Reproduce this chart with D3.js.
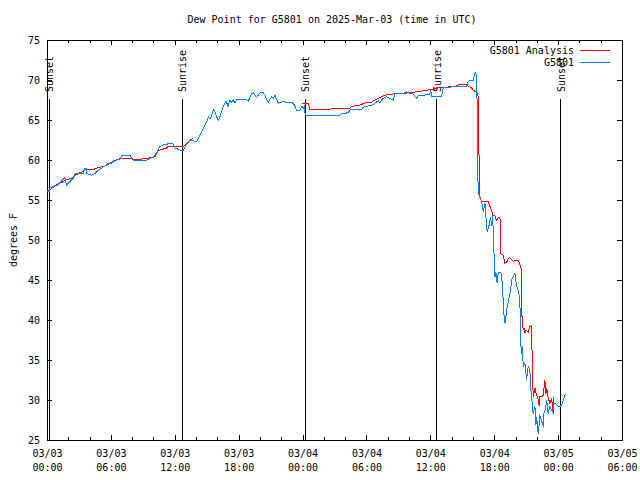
<!DOCTYPE html>
<html>
<head>
<meta charset="utf-8">
<script src="https://cdn.jsdelivr.net/npm/d3@7"></script>
<style>
  html, body { margin: 0; padding: 0; background: #fff; }
  svg { display: block; }
  text { font-family: "DejaVu Sans Mono", "Liberation Mono", monospace; font-size: 10px; fill: #000; }
</style>
</head>
<body>
<svg id="chart" width="640" height="480"></svg>
<script>
// ---------------- DATA ----------------
const chartTitle = "Dew Point for G5801 on 2025-Mar-03 (time in UTC)";
const yLabel = "degrees F";
const startUTC = Date.UTC(2025, 2, 3, 0, 0);
const endUTC = Date.UTC(2025, 2, 5, 6, 0);
const yTicks = [25, 30, 35, 40, 45, 50, 55, 60, 65, 70, 75];
const seriesNames = ["G5801 Analysis", "G5801"];

// hours since 03/03 00:00 UTC
const sunHours = [0.22, 12.71, 24.26, 36.6, 48.24];
const sunLabels = ["Sunset", "Sunrise", "Sunset", "Sunrise", "Sunset"];

// Observations (G5801)
const obsHours = [0,0.22,0.28,0.54,1.06,1.22,1.53,1.69,1.78,1.85,2.16,2.47,2.63,2.94,3.41,3.57,3.73,3.74,4.2,4.51,4.82,5.14,5.61,5.76,6.08,6.23,6.54,6.85,7.01,7.79,7.95,8.1,9.36,9.98,10.14,10.45,10.61,10.92,11.24,11.39,11.86,12.02,12.49,12.8,13.12,13.43,13.74,14.06,14.37,14.68,15.0,15.15,15.31,15.46,15.62,15.77,16.08,16.24,16.55,16.81,17.02,17.18,17.34,17.49,17.65,17.81,17.96,18.75,18.9,19.06,19.22,19.37,19.53,19.69,19.84,20.0,20.31,20.47,20.63,20.78,20.94,21.1,21.25,21.41,21.57,21.72,21.88,22.19,22.51,22.82,23.13,23.29,23.45,23.6,23.76,23.92,24.07,24.16,24.25,27.51,27.67,28.29,28.45,29.55,29.7,30.64,30.8,31.11,31.27,31.43,31.58,31.9,32.21,32.52,32.68,33.15,33.62,33.77,34.08,34.4,34.55,34.71,34.87,35.02,35.96,36.03,36.12,37.06,37.21,37.84,38.47,39.41,39.56,39.72,40.03,40.19,40.28,40.35,40.36,40.4,40.41,40.5,40.6,40.82,40.97,41.13,41.29,41.34,41.53,41.66,41.75,41.85,41.91,41.97,42.07,42.16,42.28,42.38,42.6,42.69,42.86,42.92,43.01,43.1,43.22,43.41,43.54,43.63,43.79,43.94,44.1,44.25,44.41,44.48,44.57,44.66,44.72,44.88,45.04,45.19,45.35,45.42,45.51,45.66,45.82,45.92,45.98,46.13,46.23,46.29,46.45,46.6,46.67,46.85,46.92,47.07,47.23,47.39,47.54,47.61,47.8,48.01,48.17,48.33,48.48,48.64,48.73];
const obsValues = [56.1,56.0,56.5,56.7,56.9,57.2,57.6,57.8,57.1,56.9,57.3,57.7,58.25,58.3,58.3,59.0,59.0,58.3,58.1,58.3,58.7,59.0,59.4,59.6,59.6,59.9,60.0,60.1,60.6,60.6,60.2,60.0,60.0,60.4,60.6,61.3,61.7,61.9,61.9,62.1,62.0,61.5,61.25,61.2,62.1,62.5,62.4,62.3,63.1,64.0,64.8,65.4,65.1,65.6,66.3,66.0,64.9,65.4,66.7,67.3,66.75,67.5,67.2,67.5,67.1,67.5,67.6,67.6,67.3,67.9,68.3,68.4,68.1,67.8,68.1,68.4,68.4,68.1,67.6,67.2,67.6,67.9,67.7,68.1,67.6,67.1,67.2,67.3,67.2,67.2,67.1,66.7,66.2,66.2,66.25,66.7,66.5,66.7,65.6,65.6,65.8,65.9,66.25,66.3,66.6,66.9,67.1,67.4,67.1,67.5,67.7,67.9,67.7,67.5,68.25,68.3,68.4,68.5,68.3,68.25,67.9,67.7,68.1,68.0,68.25,68.75,68.0,68.0,69.0,69.1,69.25,69.25,69.8,70.0,70.0,70.8,70.9,70.0,67.7,67.6,60.2,56.25,55.4,54.8,53.5,54.6,51.7,51.0,51.9,52.9,51.75,53.3,50.9,48.75,45.4,46.0,44.6,45.9,46.0,45.8,42.1,40.6,39.6,40.4,41.7,42.9,43.75,45.0,45.4,45.8,44.2,43.75,42.5,37.1,35.8,36.7,34.2,34.6,32.5,34.2,33.75,31.7,30.4,28.3,29.2,26.9,27.9,25.8,27.1,28.1,27.3,26.9,28.3,29.2,30.0,28.3,29.2,28.75,28.75,29.6,29.5,29.2,29.2,29.4,30.0,30.6,30.75];

// Analysis (G5801 Analysis) — null marks the daytime gap
const anaHours = [0,0.22,0.59,0.91,1.22,1.53,1.69,2.0,2.32,2.47,2.63,2.94,3.26,3.57,3.88,4.35,4.67,4.98,5.45,5.92,6.23,6.54,6.85,7.32,7.63,8.26,8.73,9.36,10.14,10.45,10.77,11.24,11.39,12.8,13.12,13.43,13.74,18.0,23.91,24.54,24.69,26.57,26.73,28.45,28.61,29.55,29.7,30.49,30.64,31.58,31.74,32.52,32.84,34.08,35.8,36.27,36.59,37.53,38.47,38.78,39.41,39.56,39.88,40.03,40.35,40.4,40.5,40.51,40.6,40.66,40.82,41.44,41.53,41.75,41.85,42.07,42.22,42.38,42.54,42.6,42.85,43.0,43.22,43.31,43.47,43.79,43.94,44.25,44.41,44.57,44.58,44.72,44.79,44.88,44.98,45.19,45.35,45.51,45.56,45.66,45.82,45.92,46.13,46.23,46.29,46.45,46.6,46.76,46.85,46.92,47.07,47.23,47.39,47.54,47.55];
const anaValues = [56.1,56.25,56.6,56.9,57.1,57.3,57.5,57.6,57.7,57.9,58.1,58.3,58.5,58.75,58.8,58.8,59.0,59.1,59.25,59.6,59.8,60.0,60.2,60.2,60.2,60.1,60.1,60.2,60.4,61.2,61.3,61.5,61.7,61.7,62.0,62.5,62.7,null,67.1,67.1,66.3,66.3,66.4,66.5,66.7,66.9,67.1,67.2,67.4,68.0,68.1,68.25,68.3,68.4,68.75,68.8,69.0,69.1,69.25,69.5,69.5,69.25,69.0,68.7,68.5,68.3,67.9,61.25,60.4,55.4,54.8,54.8,54.4,53.75,53.1,53.0,52.5,52.75,52.9,48.3,48.1,47.1,47.3,47.7,47.8,47.3,47.5,47.5,46.9,46.25,40.9,38.75,39.0,38.4,38.75,38.5,39.2,39.25,35.4,30.4,31.5,30.9,30.0,29.2,30.4,30.4,30.6,32.5,30.8,31.5,30.25,29.6,30.2,28.3,30.4];

// ---------------- CHART ----------------
const svg = d3.select("#chart");
const W = 640, H = 480;
const m = { left: 47, right: 18, top: 40, bottom: 40 };
const x0 = m.left, x1 = W - m.right, y0 = m.top, y1 = H - m.bottom;

const toDate = h => new Date(startUTC + h * 3600e3);
const x = d3.scaleUtc().domain([new Date(startUTC), new Date(endUTC)]).range([x0, x1]);
const y = d3.scaleLinear().domain([25, 75]).range([y1, y0]);

const colors = ["#ff0000", "#0080ff"];

// title
svg.append("text").attr("x", 332).attr("y", 23).attr("text-anchor", "middle").text(chartTitle);

// y label
svg.append("text")
  .attr("transform", `translate(13,${(y0 + y1) / 2}) rotate(-90)`)
  .attr("text-anchor", "middle").attr("dy", "0.35em").text(yLabel);

// axes
const majorT = d3.utcHour.every(6);
const minorT = d3.utcHour.every(2);
const fmtD = d3.utcFormat("%m/%d"), fmtT = d3.utcFormat("%H:%M");

const gx = svg.append("g").attr("transform", `translate(0,${y1})`)
  .call(d3.axisBottom(x).ticks(majorT).tickSize(-5).tickPadding(10).tickFormat(d => ""));
gx.selectAll(".tick text").each(function(d) {
  const t = d3.select(this);
  t.text(null);
  t.append("tspan").attr("x", 0).text(fmtD(d));
  t.append("tspan").attr("x", 0).attr("dy", "14px").text(fmtT(d));
});
svg.append("g").attr("transform", `translate(0,${y1})`)
  .call(d3.axisBottom(x).ticks(minorT).tickSize(-3).tickFormat(() => ""));
svg.append("g").attr("transform", `translate(0,${y0})`)
  .call(d3.axisTop(x).ticks(majorT).tickSize(-5).tickFormat(() => ""));
svg.append("g").attr("transform", `translate(0,${y0})`)
  .call(d3.axisTop(x).ticks(minorT).tickSize(-3).tickFormat(() => ""));

svg.append("g").attr("transform", `translate(${x0},0)`)
  .call(d3.axisLeft(y).tickValues(yTicks).tickSize(-5).tickPadding(7).tickFormat(d3.format("d")));
svg.append("g").attr("transform", `translate(${x1},0)`)
  .call(d3.axisRight(y).tickValues(yTicks).tickSize(-5).tickFormat(() => ""));

svg.selectAll(".domain").remove();
svg.selectAll(".tick line").attr("stroke", "#000").attr("shape-rendering", "crispEdges");
svg.selectAll(".tick text").attr("font-family", null).attr("font-size", null).attr("fill", "#000");

// border
svg.append("rect").attr("x", x0).attr("y", y0).attr("width", x1 - x0).attr("height", y1 - y0)
  .attr("fill", "none").attr("stroke", "#000").attr("shape-rendering", "crispEdges");

// sunrise/sunset markers
const sun = svg.append("g");
sunHours.forEach((h, i) => {
  const px = x(toDate(h));
  sun.append("line").attr("x1", px).attr("x2", px).attr("y1", 99).attr("y2", y1)
    .attr("stroke", "#000").attr("shape-rendering", "crispEdges");
  sun.append("text").attr("transform", `translate(${px},92) rotate(-90)`)
    .attr("dy", "0.4em").text(sunLabels[i]);
});

// lines
const line = d3.line().defined(d => d[1] != null)
  .x(d => x(toDate(d[0]))).y(d => y(d[1]));
const anaData = anaHours.map((h, i) => [h, anaValues[i]]);
const obsData = obsHours.map((h, i) => [h, obsValues[i]]);
svg.append("path").datum(anaData).attr("d", line).attr("fill", "none").attr("stroke", colors[0])
  .attr("stroke-width", 1).attr("shape-rendering", "crispEdges");
svg.append("path").datum(obsData).attr("d", line).attr("fill", "none").attr("stroke", colors[1])
  .attr("stroke-width", 1).attr("shape-rendering", "crispEdges");

// legend
const leg = svg.append("g");
seriesNames.forEach((n, i) => {
  const ly = 50 + i * 12.5;
  leg.append("text").attr("x", 574).attr("y", ly).attr("dy", "0.35em").attr("text-anchor", "end").text(n);
  leg.append("line").attr("x1", 580).attr("x2", 610).attr("y1", ly).attr("y2", ly)
    .attr("stroke", colors[i]).attr("stroke-width", 1).attr("shape-rendering", "crispEdges");
});
</script>
</body>
</html>
